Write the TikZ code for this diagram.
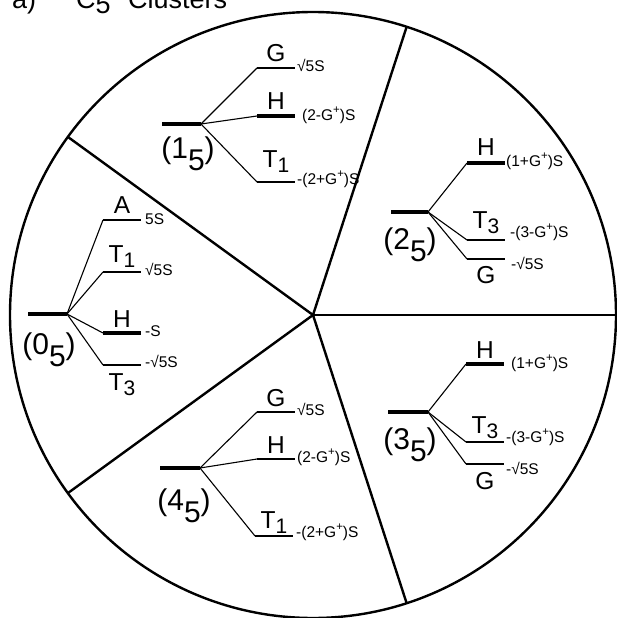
\documentclass[tikz,border=0pt]{standalone}
\usepackage{fontspec}
\setmainfont{Liberation Sans}
\tikzset{
  rim/.style={line width=2.4pt},
  spoke/.style={line width=2.4pt},
  ground/.style={line width=4pt},
  branch/.style={line width=1.1pt},
  thin level/.style={line width=1.6pt},
  mid level/.style={line width=2.2pt},
  thick level/.style={line width=3.2pt},
  irrep/.style={font=\fontsize{24.5}{25}\selectfont, inner sep=0pt, anchor=base},
  energy/.style={font=\fontsize{15.5}{16}\selectfont, inner sep=0pt, anchor=mid west},
  orbit/.style={font=\fontsize{30}{30}\selectfont, inner sep=0pt},
  heading/.style={font=\fontsize{27}{27}\selectfont, inner sep=0pt, anchor=base west},
}
% irrep with a lowered index
\newcommand{\irr}[2]{#1\raisebox{-5pt}{\fontsize{21}{21}\selectfont #2}}
% orbit label (n_5)
\newcommand{\orb}[1]{(#1\raisebox{-12pt}{5})}
% G with a raised plus
\newcommand{\gp}{G\raisebox{0.45em}{\fontsize{11.5}{11.5}\selectfont +}}
% one split level: name, branch point, left x, y, line style, symbol, symbol baseline, value position, value
\newcommand{\lvl}[9]{%
  \coordinate (#1-l) at (#3,#4);
  \coordinate (#1-r) at ({#3+38},#4);
  \draw[branch] (#2) -- (#1-l);
  \draw[#5] (#1-l) -- (#1-r);
  \node[irrep] (#1-sym) at ({#3+19},#7) {#6};
  \node[energy] (#1-val) at #8 {#9};
}
\begin{document}
\begin{tikzpicture}[x=1pt,y=-1pt]
\useasboundingbox (0,0) rectangle (617,618);

% heading
\node[heading] (ha) at (12,9) {a)};
\node[heading] (hc) at (76,9) {C\raisebox{-5pt}{5}};
\node[heading] (hw) at (128,9) {Clusters};

% outer circle and the five spokes
\coordinate (O) at (313,315);
\draw[rim] (O) circle (303);
\foreach \a [count=\i] in {0,72,144,216,288}
  \path (O) ++(\a:303) coordinate (s\i);
\foreach \i in {1,...,5}
  \draw[spoke] (O) -- (s\i);

% (0_5)
\coordinate (g0l) at (28,314);
\coordinate (b0) at (67,314);
\draw[ground] (g0l) -- (b0);
\node[orbit] (o0) at (49,350) {\orb{0}};
\lvl{a0}{b0}{103}{220}{thin level}{A}{213}{(145,222)}{5S}
\lvl{t10}{b0}{103}{272}{thin level}{\irr{T}{1}}{262}{(145,273)}{√5S}
\lvl{h0}{b0}{103}{333}{thick level}{H}{327}{(145,334)}{-S}
\lvl{t30}{b0}{103}{365}{thin level}{\irr{T}{3}}{390}{(145,365)}{-√5S}

% (1_5)
\coordinate (g1l) at (162,124);
\coordinate (b1) at (201,124);
\draw[ground] (g1l) -- (b1);
\node[orbit] (o1) at (188,154) {\orb{1}};
\lvl{g1}{b1}{257}{68}{mid level}{G}{62}{(297,69)}{√5S}
\lvl{h1}{b1}{257}{116}{thick level}{H}{109}{(302,118)}{(2-\gp)S}
\lvl{t11}{b1}{257}{182}{thin level}{\irr{T}{1}}{167}{(297,182)}{-(2+\gp)S}

% (2_5)
\coordinate (g2l) at (391,212);
\coordinate (b2) at (428,212);
\draw[ground] (g2l) -- (b2);
\node[orbit] (o2) at (410,245) {\orb{2}};
\lvl{h2}{b2}{467}{163}{thick level}{H}{155}{(506,164)}{(1+\gp)S}
\lvl{t32}{b2}{467}{240}{thin level}{\irr{T}{3}}{228}{(510,235)}{-(3-\gp)S}
\lvl{g2}{b2}{467}{259}{thin level}{G}{283}{(511,267)}{-√5S}

% (3_5)
\coordinate (g3l) at (388,412);
\coordinate (b3) at (428,412);
\draw[ground] (g3l) -- (b3);
\node[orbit] (o3) at (410,445) {\orb{3}};
\lvl{h3}{b3}{466}{364}{thick level}{H}{358}{(511,366)}{(1+\gp)S}
\lvl{t33}{b3}{466}{442}{mid level}{\irr{T}{3}}{433}{(506,440)}{-(3-\gp)S}
\lvl{g3}{b3}{466}{464}{thin level}{G}{489}{(506,472)}{-√5S}

% (4_5)
\coordinate (g4l) at (160,468);
\coordinate (b4) at (200,468);
\draw[ground] (g4l) -- (b4);
\node[orbit] (o4) at (184,506) {\orb{4}};
\lvl{g4}{b4}{257}{412}{mid level}{G}{406}{(297,413)}{√5S}
\lvl{h4}{b4}{257}{459}{mid level}{H}{453}{(297,460)}{(2-\gp)S}
\lvl{t14}{b4}{255}{536}{mid level}{\irr{T}{1}}{528}{(296,535)}{-(2+\gp)S}
\end{tikzpicture}
\end{document}
